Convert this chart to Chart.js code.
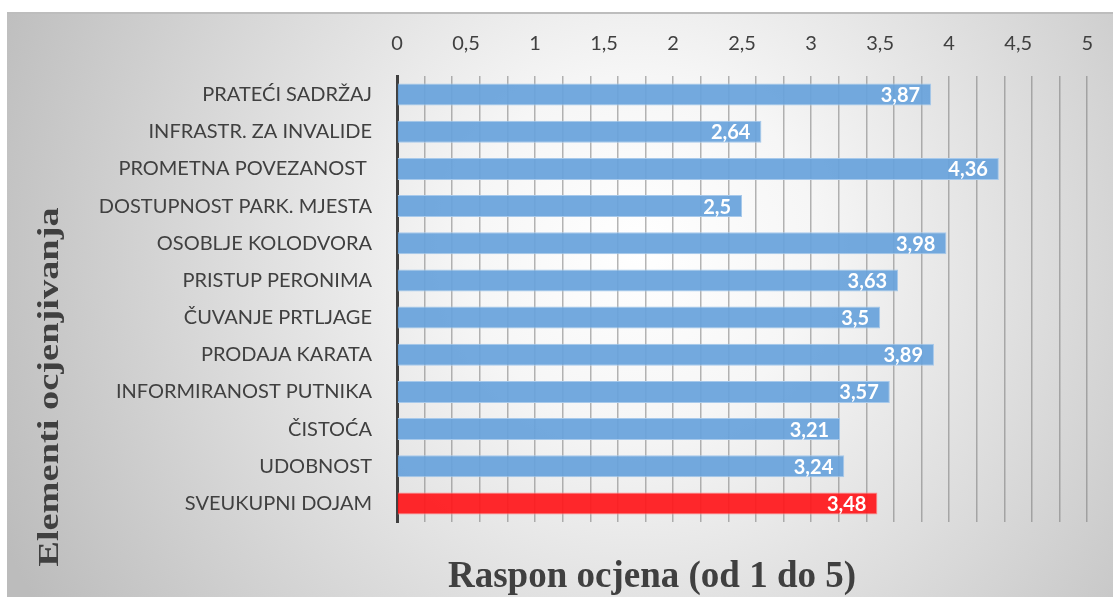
<!DOCTYPE html>
<html>
<head>
<meta charset="utf-8">
<script src="https://cdn.jsdelivr.net/npm/chart.js@4"></script>
<style>
  html, body { margin: 0; padding: 0; background: #ffffff; }
  canvas { display: block; }
</style>
</head>
<body>
<canvas id="ratingChart" width="1113" height="597"></canvas>
<script>
// Chart data
const categories = [
    'PRATEĆI SADRŽAJ',
    'INFRASTR. ZA INVALIDE',
    'PROMETNA POVEZANOST ',
    'DOSTUPNOST PARK. MJESTA',
    'OSOBLJE KOLODVORA',
    'PRISTUP PERONIMA',
    'ČUVANJE PRTLJAGE',
    'PRODAJA KARATA',
    'INFORMIRANOST PUTNIKA',
    'ČISTOĆA',
    'UDOBNOST',
    'SVEUKUPNI DOJAM'
];
const ratings = [3.87, 2.64, 4.36, 2.5, 3.98, 3.63, 3.5, 3.89, 3.57, 3.21, 3.24, 3.48];
const highlighted = [false, false, false, false, false, false, false, false, false, false, false, true];

const yTitle = 'Elementi ocjenjivanja';
const xTitle = 'Raspon ocjena (od 1 do 5)';

const textColor = '#404040';

// Gray radial background like the Office chart style
const backgroundPlugin = {
    id: 'bgGradient',
    beforeDraw(chart) {
        const ctx = chart.ctx;
        ctx.save();
        ctx.fillStyle = '#ffffff';
        ctx.fillRect(0, 0, chart.width, chart.height);
        const grad = ctx.createRadialGradient(640, 250, 0, 640, 250, 700);
        grad.addColorStop(0, '#ffffff');
        grad.addColorStop(0.25, '#f6f6f6');
        grad.addColorStop(1, '#bcbcbc');
        ctx.fillStyle = grad;
        ctx.fillRect(7, 13, chart.width - 7, chart.height - 13);
        ctx.fillStyle = '#bdbdbd';
        ctx.fillRect(7, 12, chart.width - 7, 2);
        ctx.restore();
    }
};

// Value labels inside the bar ends and the two axis titles
const labelPlugin = {
    id: 'valueLabels',
    afterDatasetsDraw(chart) {
        const ctx = chart.ctx;
        const meta = chart.getDatasetMeta(0);
        ctx.save();
        ctx.fillStyle = '#ffffff';
        ctx.font = 'bold 20px Lato';
        ctx.textAlign = 'right';
        ctx.textBaseline = 'middle';
        meta.data.forEach((bar, i) => {
            const txt = String(ratings[i]).replace('.', ',');
            ctx.fillText(txt, bar.x - 11, bar.y + 1);
        });

        ctx.fillStyle = textColor;
        ctx.textAlign = 'center';
        ctx.textBaseline = 'middle';
        ctx.font = 'bold 37px "Liberation Serif"';
        ctx.fillText(xTitle, 652, 577);

        ctx.translate(50, 387);
        ctx.rotate(-Math.PI / 2);
        ctx.scale(1.28, 1);
        ctx.font = 'bold 30px "Liberation Serif"';
        ctx.fillText(yTitle, 0, 0);
        ctx.restore();
    }
};

const isStep = (v, step) => Math.abs(Math.round(v * 10) % Math.round(step * 10)) === 0;

new Chart(document.getElementById('ratingChart'), {
    type: 'bar',
    data: {
        labels: categories,
        datasets: [{
            data: ratings,
            backgroundColor: highlighted.map(h => h ? 'rgba(255, 24, 28, 0.93)' : 'rgba(104, 163, 219, 0.93)'),
            borderColor: highlighted.map(h => h ? '#ff8a8c' : '#a7c9eb'),
            borderWidth: 1,
            barPercentage: 0.8,
            categoryPercentage: 0.74
        }]
    },
    options: {
        indexAxis: 'y',
        responsive: false,
        animation: false,
        devicePixelRatio: 1,
        layout: { padding: { left: 7, right: 22, top: 13, bottom: 75 } },
        plugins: {
            legend: { display: false },
            tooltip: { enabled: false }
        },
        scales: {
            x: {
                position: 'top',
                min: 0,
                max: 5,
                afterFit(scale) { scale.height = 63; },
                border: { display: false },
                grid: {
                    drawTicks: false,
                    lineWidth: 1.5,
                    color: ctx => (ctx.tick && isStep(ctx.tick.value, 0.2)) ? 'rgba(120, 120, 120, 0.55)' : 'rgba(0,0,0,0)'
                },
                ticks: {
                    stepSize: 0.1,
                    autoSkip: false,
                    maxRotation: 0,
                    padding: 20,
                    color: textColor,
                    font: { family: 'Lato', size: 20 },
                    callback: v => isStep(v, 0.5) ? String(Math.round(v * 10) / 10).replace('.', ',') : ''
                }
            },
            y: {
                afterFit(scale) { scale.width = 390; },
                border: { display: true, color: '#404040', width: 3 },
                grid: { display: false },
                ticks: {
                    padding: 17,
                    color: textColor,
                    font: { family: 'Lato', size: 20 }
                }
            }
        }
    },
    plugins: [backgroundPlugin, labelPlugin]
});
</script>
</body>
</html>
